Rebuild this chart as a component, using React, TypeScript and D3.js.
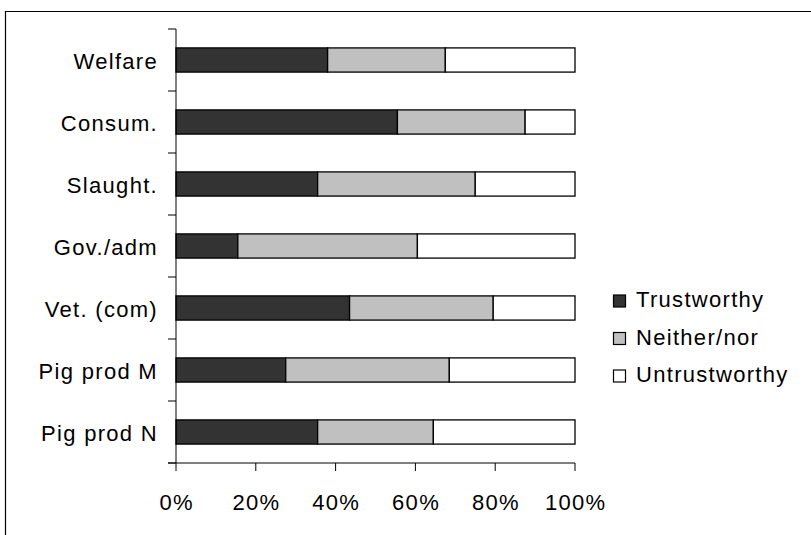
import React, { useEffect, useRef } from "react";
import * as d3 from "d3";

const categories = ["Welfare", "Consum.", "Slaught.", "Gov./adm", "Vet. (com)", "Pig prod M", "Pig prod N"];
const trustworthy = [38, 55.5, 35.5, 15.5, 43.5, 27.5, 35.5];
const neither = [29.5, 32, 39.5, 45, 36, 41, 29];
const untrustworthy = categories.map((_, i) => 100 - trustworthy[i] - neither[i]);
const seriesNames = ["Trustworthy", "Neither/nor", "Untrustworthy"];
const seriesColors = ["#333333", "#c0c0c0", "#ffffff"];
const xTicks = [0, 20, 40, 60, 80, 100];

const W = 811, H = 535;
const FONT = "'Liberation Sans', Arial, sans-serif";
const FS = 22;
const LS = 1.3;

export default function App() {
  const ref = useRef<SVGSVGElement>(null);
  useEffect(() => {
    const svg = d3.select(ref.current);
    svg.selectAll("*").remove();

    // outer frame
    svg.append("path").attr("d", `M5.5,${H + 10}V11.5H${W + 10}`).attr("fill", "none").attr("stroke", "#000").attr("stroke-width", 1.2);

    const x = d3.scaleLinear().domain([0, 100]).range([176, 575]);
    const y = d3.scaleBand().domain(categories).range([29, 463]).paddingInner(0.61).paddingOuter(0.305);
    const band = d3.scaleBand().domain(categories).range([29, 463]);

    const rows = categories.map((c, i) => ({ c, vals: [trustworthy[i], neither[i], untrustworthy[i]] }));
    const stacked = d3.stack<any>().keys([0, 1, 2] as any).value((d: any, k: any) => d.vals[k])(rows as any);

    stacked.forEach((s, si) => {
      svg.append("g").selectAll("rect").data(s).join("rect")
        .attr("x", (d: any) => x(d[0]))
        .attr("width", (d: any) => x(d[1]) - x(d[0]))
        .attr("y", (d: any) => y(d.data.c)!)
        .attr("height", y.bandwidth())
        .attr("fill", seriesColors[si])
        .attr("stroke", "#000")
        .attr("stroke-width", 1.3);
    });

    // y axis
    svg.append("line").attr("x1", 176).attr("x2", 176).attr("y1", 29).attr("y2", 463).attr("stroke", "#000");
    const bounds = [...categories.map((c) => band(c)!), 463];
    svg.append("g").selectAll("line").data(bounds).join("line")
      .attr("x1", 168).attr("x2", 176).attr("y1", (d) => d).attr("y2", (d) => d).attr("stroke", "#000");
    svg.append("g").selectAll("text").data(categories).join("text")
      .attr("x", 158).attr("y", (d) => band(d)! + band.bandwidth() / 2 + 8.5)
      .attr("text-anchor", "end").attr("font-family", FONT).attr("font-size", FS)
      .attr("letter-spacing", LS).text((d) => d);

    // x axis
    svg.append("line").attr("x1", 168).attr("x2", 575).attr("y1", 463).attr("y2", 463).attr("stroke", "#000");
    svg.append("g").selectAll("line").data(xTicks).join("line")
      .attr("x1", (d) => x(d)).attr("x2", (d) => x(d)).attr("y1", 463).attr("y2", 471).attr("stroke", "#000");
    svg.append("g").selectAll("text").data(xTicks).join("text")
      .attr("x", (d) => x(d) + LS / 2).attr("y", 510).attr("text-anchor", "middle")
      .attr("font-family", FONT).attr("font-size", FS).attr("letter-spacing", LS).text((d) => `${d}%`);

    // legend
    const lg = svg.append("g");
    seriesNames.forEach((n, i) => {
      const by = 307 + i * 37.5;
      lg.append("rect").attr("x", 613.5).attr("y", by - 12).attr("width", 12).attr("height", 12)
        .attr("fill", seriesColors[i]).attr("stroke", "#000").attr("stroke-width", 1.2);
      lg.append("text").attr("x", 636).attr("y", by).attr("font-family", FONT).attr("font-size", FS)
        .attr("letter-spacing", LS).text(n);
    });
  }, []);
  return <svg ref={ref} width={W} height={H} style={{ position: "absolute", left: 0, top: 0, background: "#fff" }} />;
}
